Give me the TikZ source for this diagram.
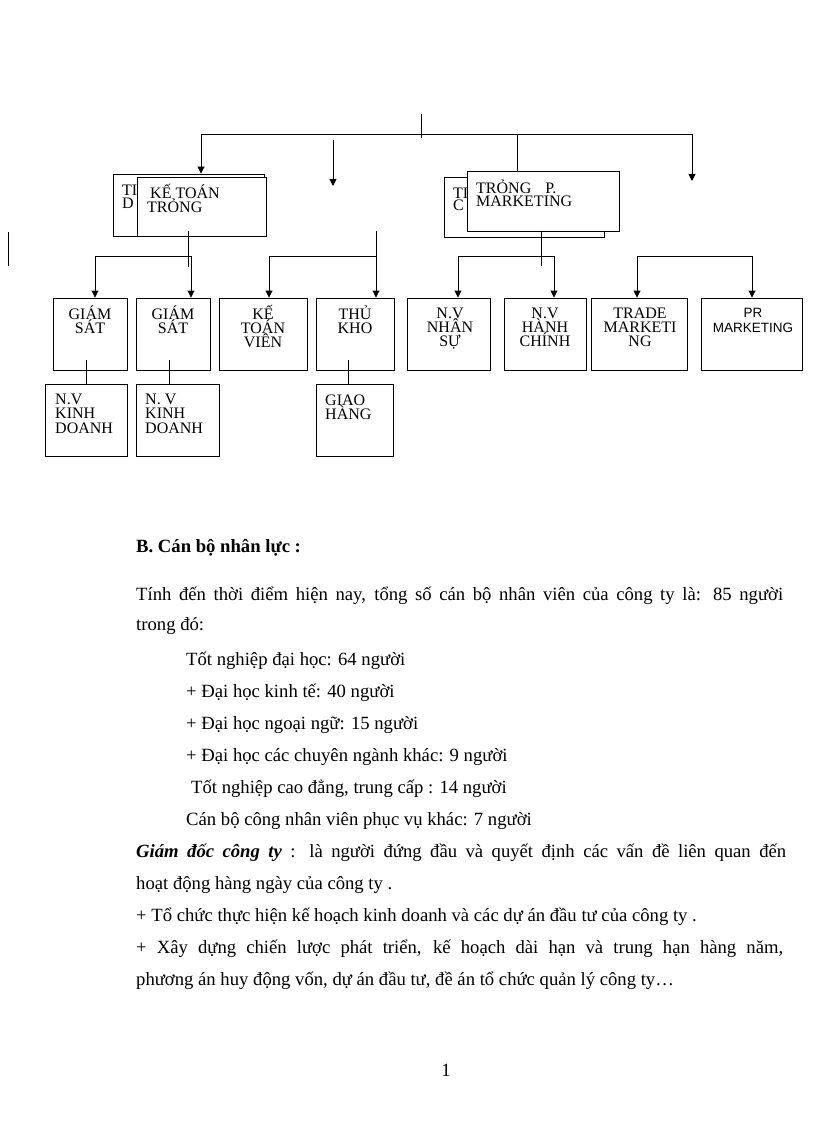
\documentclass[tikz,border=0pt]{standalone}
\usepackage{fontspec}
\setmainfont{Liberation Serif}
\newfontfamily\sansf{Liberation Sans}
\usetikzlibrary{arrows.meta}
\newcommand{\mystrut}{\rule{0pt}{17pt}}
\newcommand{\tightls}{\lineskiplimit=-30pt\relax\lineskip=0pt\relax}
\begin{document}
\begin{tikzpicture}[x=1pt,y=-1pt,
  ln/.style={line width=0.9pt},
  arr/.style={ln,-{Triangle[length=7pt,width=7pt]}},
  bx/.style={draw,line width=0.9pt,minimum height=72pt,inner sep=0pt},
  fbx/.style={bx,fill=white},
  btxt/.style={font={\fontsize{16}{14}\selectfont\tightls},align=center,inner sep=0pt,anchor=north},
  ltxt/.style={btxt,align=left,anchor=north west},
  mtxt/.style={font={\fontsize{18.67}{32}\selectfont},inner sep=0pt,anchor=base west}]
\useasboundingbox (0,0) rectangle (816,1123);
\fill[white] (0,0) rectangle (816,1123);

% ---- upper boxes (back ones first, then front ones filled white)
\node[bx,minimum width=151pt,minimum height=62pt] (KDb) at (188.5,205) {};
\node[ltxt,font={\fontsize{16}{13}\selectfont\tightls}] (KDbt) at (122,178) {\mystrut TI\\D};
\node[fbx,minimum width=129pt,minimum height=59pt] (KTf) at (201.5,206.5) {};
\node[ltxt] (KTft) at (147,181) {\mystrut\hspace{3pt}KẾ TOÁN\\TRỎNG};

\node[bx,minimum width=160pt,minimum height=60pt] (Rb) at (524,207) {};
\node[ltxt,font={\fontsize{16}{12.5}\selectfont\tightls}] (Rbt) at (453,181) {\mystrut TI\\C};
\node[fbx,minimum width=152pt,minimum height=60pt] (Rf) at (543,201) {};
\node[ltxt,font={\fontsize{16}{13}\selectfont\tightls}] (Rft) at (476,176) {\mystrut TRỎNG\hspace{14pt}P.\\MARKETING};

% ---- second row
\node[bx,minimum width=74pt] (gs1) at (90,334) {};
\node[bx,minimum width=74pt] (gs2) at (173,334) {};
\node[bx,minimum width=88pt] (ktv) at (263,334) {};
\node[bx,minimum width=78pt] (tk) at (355,334) {};
\node[bx,minimum width=83pt] (nvns) at (448.5,334) {};
\node[bx,minimum width=82pt] (nvhc) at (545,334) {};
\node[bx,minimum width=96pt] (tm) at (639,334) {};
\node[bx,minimum width=101pt] (pr) at (751.5,334) {};

\node[btxt] (gs1t) at (90,302) {\mystrut GIÁM\\SÁT};
\node[btxt] (gs2t) at (173,302) {\mystrut GIÁM\\SÁT};
\node[btxt] (ktvt) at (263,302) {\mystrut KẾ\\TOÁN\\VIÊN};
\node[btxt] (tkt) at (355,302) {\mystrut THỦ\\KHO};
\node[btxt] (nvnst) at (450,301) {\mystrut N.V\\NHÂN\\SỰ};
\node[btxt] (nvhct) at (545,301) {\mystrut N.V\\HÀNH\\CHÍNH};
\node[btxt] (tmt) at (640,301) {\mystrut TRADE\\MARKETI\\NG};
\node[btxt,font={\sansf\fontsize{13.5}{15}\selectfont\tightls}] (prt) at (753,300) {\mystrut PR\\MARKETING};

% ---- third row
\node[bx,minimum width=82pt] (kd1) at (86,420) {};
\node[bx,minimum width=83pt] (kd2) at (177.5,420) {};
\node[bx,minimum width=77pt] (gh) at (354.5,420) {};
\node[ltxt,font={\fontsize{16}{14.5}\selectfont\tightls}] (kd1t) at (55,387) {\mystrut N.V\\KINH\\DOANH};
\node[ltxt,font={\fontsize{16}{14.5}\selectfont\tightls}] (kd2t) at (145,387) {\mystrut N. V\\KINH\\DOANH};
\node[ltxt] (ght) at (325,388) {\mystrut GIAO\\HÀNG};

% ---- connectors at the top
\coordinate (topA) at (421,114); \coordinate (topB) at (421,138);
\draw[ln] (topA) -- (topB);
\coordinate (hL) at (201,134); \coordinate (hR) at (692,134);
\draw[ln] (hL) -- (hR);
\draw[arr] (hL) -- (hL |- KDb.north);
\coordinate (a2s) at (333,140); \coordinate (a2e) at (333,186);
\draw[arr] (a2s) -- (a2e);
\coordinate (h3) at (517,134);
\draw[ln] (h3) -- (h3 |- Rf.north);
\coordinate (a4e) at (692,181);
\draw[arr] (hR) -- (a4e);
\coordinate (tk1) at (8,232); \coordinate (tk2) at (8,266);
\draw[ln] (tk1) -- (tk2);

% left group
\coordinate (v1a) at (188,231); \coordinate (v1b) at (188,267);
\draw[ln] (v1a) -- (v1b);
\coordinate (j1L) at (95,256); \coordinate (j1R) at (191,256);
\draw[ln] (j1L) -- (j1R);
\draw[arr] (j1L) -- (j1L |- gs1.north);
\draw[arr] (j1R) -- (j1R |- gs2.north);

% middle group
\coordinate (v2a) at (376,231); \coordinate (j2L) at (269,256); \coordinate (j2R) at (376,256);
\draw[arr] (v2a) -- (v2a |- tk.north);
\draw[ln] (j2L) -- (j2R);
\draw[arr] (j2L) -- (j2L |- ktv.north);

% right group
\coordinate (v3a) at (541,231); \coordinate (v3b) at (541,266);
\draw[ln] (v3a) -- (v3b);
\coordinate (j3L) at (458,256); \coordinate (j3R) at (554,256);
\draw[ln] (j3L) -- (j3R);
\draw[arr] (j3L) -- (j3L |- nvns.north);
\draw[arr] (j3R) -- (j3R |- nvhc.north);

\coordinate (j4L) at (637,256); \coordinate (j4R) at (752,256);
\draw[ln] (j4L) -- (j4R);
\draw[arr] (j4L) -- (j4L |- tm.north);
\draw[arr] (j4R) -- (j4R |- pr.north);

% row 3 links
\coordinate (c1) at (86,360); \coordinate (c2) at (169,360); \coordinate (c3) at (348,360);
\draw[ln] (c1) -- (c1 |- kd1.north);
\draw[ln] (c2) -- (c2 |- kd2.north);
\draw[ln] (c3) -- (c3 |- gh.north);

% ---- body text
\node[mtxt] (l1) at (136,552) {\textbf{B. Cán bộ nhân lực :}};
\node[mtxt] (l2) at (136,600) {\makebox[647pt][s]{Tính đến thời điểm hiện nay, tổng số cán bộ nhân viên của công ty là: 85 người}};
\node[mtxt] (l3) at (136,630) {trong đó:};
\node[mtxt] (l4) at (186,665) {Tốt nghiệp đại học: 64 người};
\node[mtxt] (l5) at (186,697) {+ Đại học kinh tế: 40 người};
\node[mtxt] (l6) at (186,729) {+ Đại học ngoại ngữ: 15 người};
\node[mtxt] (l7) at (186,761) {+ Đại học các chuyên ngành khác: 9 người};
\node[mtxt] (l8) at (191,793) {Tốt nghiệp cao đẳng, trung cấp : 14 người};
\node[mtxt] (l9) at (186,825) {Cán bộ công nhân viên phục vụ khác: 7 người};
\node[mtxt] (l10) at (136,857) {\makebox[650pt][s]{\textbf{\textit{Giám đốc công ty}} : là người đứng đầu và quyết định các vấn đề liên quan đến}};
\node[mtxt] (l11) at (136,889) {hoạt động hàng ngày của công ty .};
\node[mtxt] (l12) at (136,921) {+ Tổ chức thực hiện kế hoạch kinh doanh và các dự án đầu tư của công ty .};
\node[mtxt] (l13) at (136,953) {\makebox[647pt][s]{+ Xây dựng chiến lược phát triển, kế hoạch dài hạn và trung hạn hàng năm,}};
\node[mtxt] (l14) at (136,985) {phương án huy động vốn, dự án đầu tư, đề án tổ chức quản lý công ty…};
\node[mtxt,anchor=base] (pg) at (446,1076) {1};
\end{tikzpicture}
\end{document}
